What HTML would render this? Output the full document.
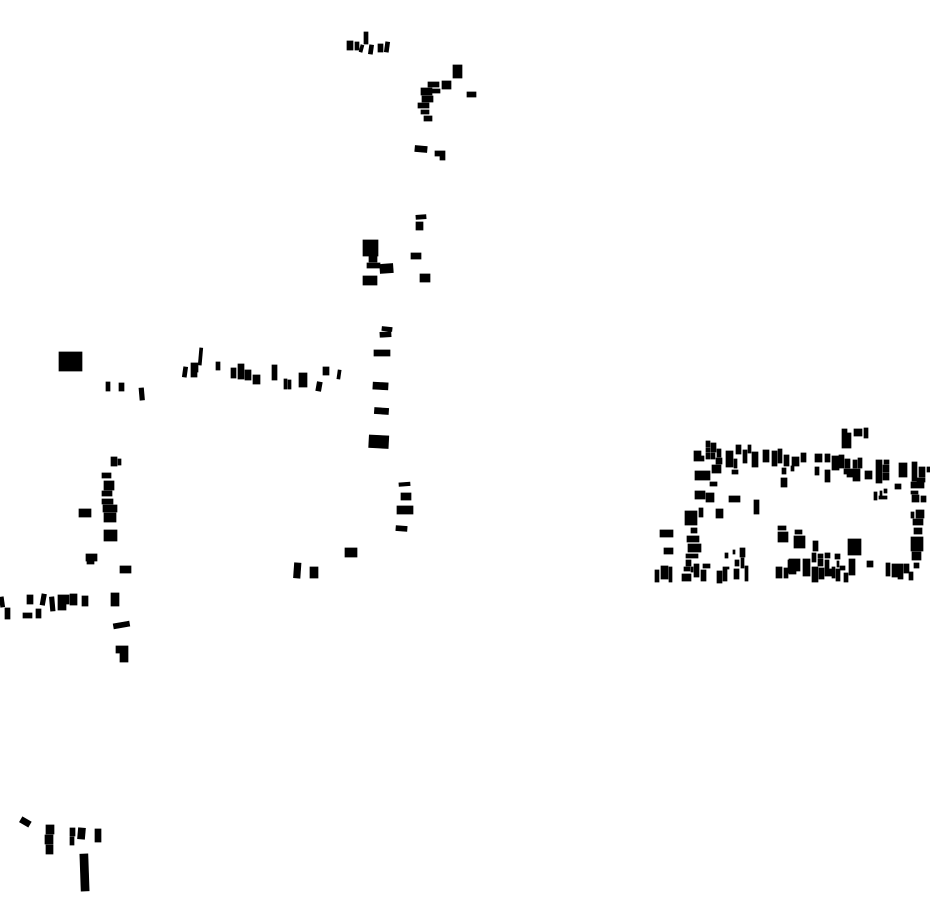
<!DOCTYPE html>
<html lang="en"><head><meta charset="utf-8"><title>Building footprints</title>
<style>html,body{margin:0;padding:0;background:#fff}svg{display:block}</style></head>
<body>
<svg xmlns="http://www.w3.org/2000/svg" width="930" height="924" viewBox="0 0 930 924">
<rect width="930" height="924" fill="#fff"/>
<path fill="#000" stroke="#000" stroke-width=".7" d="
M706 441h4v6h-4z M711 443h5v9h-5z M706 448h4v4h-4z M706 453h4v6h-4z M711 453h4v6h-4z
M694 451h7v10h-7z M700 456h4v5h-4z M717 449h4v8h-4z M716 458h6v6h-6z M712 465h9v8h-9z
M726 451h7v16h-7z M734 459h3v9h-3z M736 445h5v9h-5z M743 450h4v13h-4z M748 445h3v8h-3z
M752 452h6v15h-6z M763 450h6v12h-6z M772 451h5v15h-5z M778 449h4v14h-4z M784 455h5v11h-5z
M782 468h4v6h-4z M781 478h6v9h-6z M732 470h6v4h-6z M695 471h15v9h-15z M710 482h7v4h-7z
M695 491h10v8h-10z M706 493h8v9h-8z M729 496h11v6h-11z M754 500h5v14h-5z M685 511h12v14h-12z
M699 508h4v9h-4z M716 509h7v9h-7z M691 528h6v5h-6z M660 530h13v7h-13z M687 536h12v6h-12z
M778 526h8v4h-8z M778 532h10v10h-10z M664 548h9v6h-9z M688 544h13v8h-13z M686 554h6v4h-6z
M692 554h6v4h-6z M686 560h5v6h-5z M684 567h6v4h-6z M691 567h2v5h-2z M694 564h5v13h-5z
M703 564h7v4h-7z M682 574h9v7h-9z M701 570h5v11h-5z M655 570h4v12h-4z M661 566h7v13h-7z
M669 567h3v15h-3z M717 571h5v12h-5z M723 569h4v12h-4z M723 567h6v2h-6z M734 569h5v10h-5z
M745 566h3v15h-3z M725 553h3v5h-3z M733 550h2v4h-2z M740 548h5v9h-5z M735 560h4v6h-4z
M741 558h3v10h-3z M776 567h6v11h-6z M784 568h4v10h-4z M788 560h2v13h-2z
M842 429h5v4h-5z M842 433h9v15h-9z M854 429h8v7h-8z M864 428h4v10h-4z M792 457h7v9h-7z
M791 466h3v5h-3z M801 453h5v9h-5z M815 454h7v8h-7z M815 467h4v8h-4z M825 454h5v8h-5z
M825 470h5v12h-5z M832 456h7v14h-7z M839 455h5v13h-5z M845 459h5v9h-5z M853 460h4v8h-4z
M858 458h4v10h-4z M844 469h16v5h-16z M847 474h13v3h-13z M853 477h7v4h-7z M865 471h7v8h-7z
M876 460h6v23h-6z M884 460h5v4h-5z M883 465h6v7h-6z M883 473h6v7h-6z M899 463h8v14h-8z
M895 484h6v5h-6z M912 462h5v19h-5z M919 467h6v10h-6z M927 467h3v5h-3z M917 478h8v4h-8z
M911 482h13v6h-13z M911 491h7v3h-7z M912 495h7v7h-7z M921 496h5v6h-5z M874 492h3v8h-3z
M880 491h2v5h-2z M884 489h3v4h-3z M879 496h8v3h-8z M911 512h3v6h-3z M916 510h8v8h-8z
M913 519h10v6h-10z M914 528h8v6h-8z M911 537h12v14h-12z M912 552h9v8h-9z M914 563h5v5h-5z
M909 572h4v8h-4z M904 564h5v9h-5z M898 564h5v15h-5z M892 564h6v13h-6z M886 563h4v13h-4z
M867 561h6v6h-6z M848 539h13v16h-13z M849 559h6v16h-6z M844 573h4v9h-4z M840 566h5v4h-5z
M836 569h4v12h-4z M837 561h2v6h-2z M835 554h5v5h-5z M832 567h3v11h-3z M825 569h7v7h-7z
M825 560h4v9h-4z M825 553h5v5h-5z M818 554h5v4h-5z M818 559h5v7h-5z M812 553h4v9h-4z
M819 568h5v11h-5z M812 567h6v15h-6z M803 559h7v4h-7z M803 563h7v4h-7z M803 567h7v9h-7z
M796 559h4v12h-4z M789 559h7v15h-7z M813 541h5v10h-5z M794 536h11v12h-11z M795 530h7v4h-7z
M347 41h6v9h-6z M355 42h4v8h-4z M364 32h4v12h-4z M378 44h5v8h-5z
M453 65h9v13h-9z M442 81h9v8h-9z M428 82h11v5h-11z M421 88h11v7h-11z M432 89h8v4h-8z
M422 96h11v6h-11z M418 103h11v5h-11z M421 110h8v4h-8z M424 116h8v5h-8z M467 92h9v5h-9z
M435 151h10v5h-10z M440 156h5v4h-5z M416 222h7v8h-7z M363 240h15v16h-15z M369 256h8v6h-8z
M367 263h13v5h-13z M363 276h14v9h-14z M411 253h10v6h-10z M420 274h10v8h-10z
M59 352h23v19h-23z M106 382h4v9h-4z M119 383h5v8h-5z M191 363h7v9h-7z M191 372h6v5h-6z M216 362h4v8h-4z
M231 368h5v10h-5z M238 364h6v15h-6z M245 370h6v10h-6z M253 375h7v9h-7z M272 365h5v15h-5z
M284 379h3v10h-3z M288 380h3v9h-3z M299 373h8v14h-8z M323 367h6v8h-6z
M111 457h6v9h-6z M118 459h3v6h-3z M102 473h9v5h-9z M104 481h10v9h-10z M102 491h10v5h-10z
M102 499h11v5h-11z M103 505h14v7h-14z M104 513h12v9h-12z M104 530h13v11h-13z M79 509h12v8h-12z
M86 554h11v7h-11z M87 561h7v3h-7z M120 566h11v7h-11z
M5 608h5v11h-5z M27 595h6v9h-6z M58 595h8v15h-8z M66 595h3v9h-3z M70 594h7v11h-7z M82 596h6v10h-6z
M23 613h9v5h-9z M36 609h5v9h-5z M111 593h8v13h-8z M116 646h12v7h-12z M120 653h8v9h-8z
M46 825h8v9h-8z M45 835h8v9h-8z M46 845h7v9h-7z M70 828h5v8h-5z M70 837h4v8h-4z M95 829h6v13h-6z
M401 493h10v7h-10z M397 506h16v8h-16z M345 548h12v9h-12z M310 567h8v11h-8z M374 350h16v6h-16z"/>
<g fill="#000" stroke="#000" stroke-width=".7">
<rect x="360" y="45" width="3" height="7" transform="rotate(15 361.5 48.5)"/>
<rect x="369" y="45" width="4" height="9" transform="rotate(8 371 49.5)"/>
<rect x="385" y="42" width="4" height="10" transform="rotate(8 387 47)"/>
<rect x="415" y="146" width="12" height="6" transform="rotate(5 421 149)"/>
<rect x="416" y="215" width="10" height="4" transform="rotate(-4 421 217)"/>
<rect x="380" y="264" width="13" height="9" transform="rotate(-4 386.5 268.5)"/>
<rect x="382" y="327" width="10" height="4" transform="rotate(6 387 329)"/>
<rect x="380" y="332" width="11" height="5" transform="rotate(-3 385.5 334.5)"/>
<rect x="139.500" y="388" width="4.500" height="12" transform="rotate(-5 142 394)"/>
<rect x="183" y="367" width="4" height="10" transform="rotate(8 185 372)"/>
<rect x="199" y="348" width="3" height="17" transform="rotate(5 200.500 356.500)"/>
<rect x="316.500" y="382" width="5" height="9" transform="rotate(10 319 386.500)"/>
<rect x="337.500" y="370" width="3" height="9" transform="rotate(8 339 374.500)"/>
<rect x="0" y="597" width="4" height="10" transform="rotate(-8 2 602)"/>
<rect x="41" y="594" width="4.500" height="11" transform="rotate(10 43 599.500)"/>
<rect x="50" y="597" width="4.500" height="14" transform="rotate(-5 52 604)"/>
<rect x="113.500" y="622.500" width="16" height="5" transform="rotate(-10 121.500 625)"/>
<rect x="20.500" y="819" width="10" height="6" transform="rotate(30 25.500 821.700)"/>
<rect x="78" y="828" width="7" height="11" transform="rotate(5 81.500 833.500)"/>
<rect x="80.500" y="854" width="8" height="37" transform="rotate(-2 84.500 872.500)"/>
<rect x="399" y="482.500" width="11" height="3.500" transform="rotate(-4 404.500 484)"/>
<rect x="396" y="526" width="11" height="5" transform="rotate(4 401.500 528.500)"/>
<rect x="294" y="563" width="6.500" height="15" transform="rotate(4 297.500 570.500)"/>
<rect x="373" y="382.500" width="15" height="7" transform="rotate(3 380.500 386)"/>
<rect x="374.500" y="408" width="14" height="6" transform="rotate(4 381.500 411)"/>
<rect x="369" y="435.500" width="19.500" height="12.500" transform="rotate(3 379 441.500)"/>
</g>
</svg>
</body></html>
